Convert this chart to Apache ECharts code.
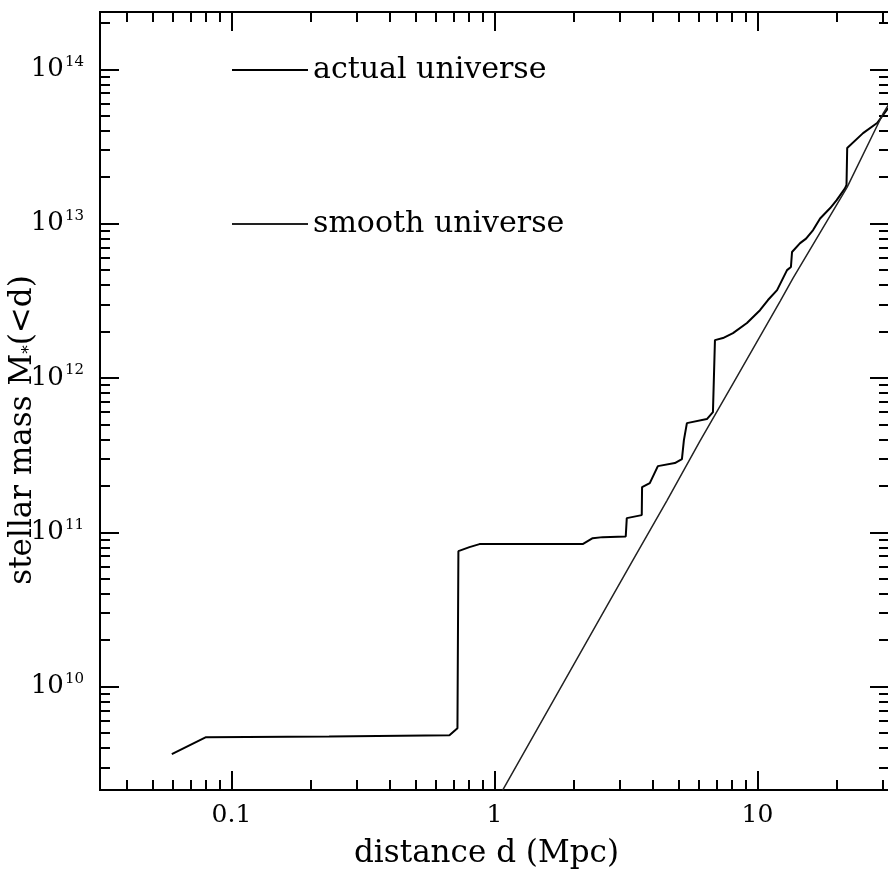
<!DOCTYPE html>
<html>
<head>
<meta charset="utf-8">
<script src="https://cdn.jsdelivr.net/npm/echarts@6/dist/echarts.min.js"></script>
<style>
html,body{margin:0;padding:0;background:#fff;}
#chart{width:888px;height:869px;}
</style>
</head>
<body>
<div id="chart"></div>
<script>
// ---- data ----
const actualD = [0.0593, 0.080, 0.235, 0.674, 0.723, 0.729, 0.803, 0.877, 2.164, 2.362, 2.578, 3.155, 3.184, 3.63, 3.64, 3.895, 4.18, 4.85, 5.16, 5.25, 5.39, 6.42, 6.77, 6.85, 6.89, 7.39, 8.07, 9.12, 10.22, 10.96, 11.87, 12.95, 13.4, 13.53, 14.52, 15.3, 16.27, 17.3, 18.9, 20.0, 21.54, 21.8, 21.93, 25.2, 28.5, 31.4];
const actualM = [3.65e9, 4.71e9, 4.75e9, 4.85e9, 5.38e9, 7.55e10, 8.02e10, 8.39e10, 8.39e10, 9.17e10, 9.31e10, 9.4e10, 1.236e11, 1.293e11, 1.963e11, 2.084e11, 2.685e11, 2.81e11, 2.98e11, 3.96e11, 5.1e11, 5.42e11, 6.01e11, 6.05e11, 1.76e12, 1.814e12, 1.954e12, 2.27e12, 2.75e12, 3.2e12, 3.71e12, 5.0e12, 5.24e12, 6.55e12, 7.48e12, 8.0e12, 9.09e12, 1.08e13, 1.262e13, 1.42e13, 1.70e13, 1.78e13, 3.09e13, 3.86e13, 4.49e13, 5.61e13];
const smoothD = [1.073, 2.72, 3.36, 4.52, 6.04, 8.07, 12.2, 13.65, 21.9, 30.1, 31.5];
const smoothM = [2.13e9, 3.5e10, 6.6e10, 1.6e11, 3.9e11, 9.2e11, 3.15e12, 4.44e12, 1.72e13, 5.21e13, 5.9e13];
const seriesNames = ['actual universe', 'smooth universe'];
const xMajorTicks = [0.1, 1, 10];
const xMinorTicks = [0.04, 0.05, 0.06, 0.07, 0.08, 0.09, 0.2, 0.3, 0.4, 0.5, 0.6, 0.7, 0.8, 0.9, 2, 3, 4, 5, 6, 7, 8, 9, 20, 30];
const yMajorTicks = [1e10, 1e11, 1e12, 1e13, 1e14];
const yMinorTicks = [3e9, 4e9, 5e9, 6e9, 7e9, 8e9, 9e9, 2e10, 3e10, 4e10, 5e10, 6e10, 7e10, 8e10, 9e10, 2e11, 3e11, 4e11, 5e11, 6e11, 7e11, 8e11, 9e11, 2e12, 3e12, 4e12, 5e12, 6e12, 7e12, 8e12, 9e12, 2e13, 3e13, 4e13, 5e13, 6e13, 7e13, 8e13, 9e13, 2e14];
const xName = 'distance d (Mpc)';

// ---- chart ----
const FONT = 'DejaVu Serif';
const xMin = Math.pow(10, -1.5), xMax = Math.pow(10, 1.5);
const yMin = Math.pow(10, 9.3305), yMax = Math.pow(10, 14.3714);
const lineCol = '#000';

function xAxisDef(pos, ticks, len, labels) {
  return {
    type: 'log', logBase: 10, min: xMin, max: xMax, position: pos,
    axisLine: { show: true, lineStyle: { color: lineCol, width: 2 } },
    axisTick: { show: true, inside: true, length: len, customValues: ticks, lineStyle: { color: lineCol, width: 2 } },
    axisLabel: labels ? {
      show: true, customValues: xMajorTicks, margin: 13,
      fontFamily: FONT, fontSize: 25, color: '#000',
      formatter: v => (v >= 1 ? String(Math.round(v)) : String(Number(v.toPrecision(1))))
    } : { show: false },
    splitLine: { show: false },
    name: labels ? xName : '',
    nameLocation: 'middle', nameGap: 48,
    nameTextStyle: { fontFamily: FONT, fontSize: 31, color: '#000', padding: [0, 16, 0, 0] }
  };
}
function yAxisDef(pos, ticks, len, labels) {
  return {
    type: 'log', logBase: 10, min: yMin, max: yMax, position: pos,
    axisLine: { show: true, lineStyle: { color: lineCol, width: 2 } },
    axisTick: { show: true, inside: true, length: len, customValues: ticks, lineStyle: { color: lineCol, width: 2 } },
    axisLabel: labels ? {
      show: true, customValues: yMajorTicks, margin: 16,
      formatter: v => '{b|10}{s|' + Math.round(Math.log10(v)) + '}',
      rich: {
        b: { fontFamily: FONT, fontSize: 26, color: '#000', lineHeight: 30 },
        s: { fontFamily: FONT, fontSize: 15, color: '#000', verticalAlign: 'top', lineHeight: 30, padding: [0, 0, 14, 1] }
      }
    } : { show: false },
    splitLine: { show: false },
    name: labels ? '{a|stellar mass M}{sub|*}{a|(<d)}' : '',
    nameLocation: 'middle', nameGap: 62, nameRotate: 90,
    nameMoveOverlap: false,
    nameTextStyle: {
      padding: [0, 58, 0, 0],
      rich: {
        a: { fontFamily: FONT, fontSize: 31, color: '#000' },
        sub: { fontFamily: FONT, fontSize: 17, color: '#000', verticalAlign: 'bottom', padding: [10, 0, 0, 0] }
      }
    }
  };
}

const actualData = actualD.map((d, i) => [d, actualM[i]]);
const smoothData = smoothD.map((d, i) => [d, smoothM[i]]);

const chart = echarts.init(document.getElementById('chart'), null, { renderer: 'canvas' });
chart.setOption({
  animation: false,
  backgroundColor: '#fff',
  grid: { left: 100, top: 12, width: 789, height: 778, containLabel: false, outerBoundsMode: 'none' },
  legend: [
    { data: [seriesNames[0]], left: 232, top: 55, padding: 0, itemWidth: 76, itemHeight: 2, icon: 'rect',
      textStyle: { fontFamily: FONT, fontSize: 30, color: '#000', lineHeight: 30 }, selectedMode: false },
    { data: [seriesNames[1]], left: 232, top: 209, padding: 0, itemWidth: 76, itemHeight: 2, icon: 'rect',
      textStyle: { fontFamily: FONT, fontSize: 30, color: '#000', lineHeight: 30 }, selectedMode: false }
  ],
  xAxis: [
    xAxisDef('bottom', xMajorTicks, 19, true),
    xAxisDef('bottom', xMinorTicks, 10, false),
    xAxisDef('top', xMajorTicks, 19, false),
    xAxisDef('top', xMinorTicks, 10, false)
  ],
  yAxis: [
    yAxisDef('left', yMajorTicks, 19, true),
    yAxisDef('left', yMinorTicks, 10, false),
    yAxisDef('right', yMajorTicks, 19, false),
    yAxisDef('right', yMinorTicks, 10, false)
  ],
  series: [
    { name: seriesNames[0], type: 'line', xAxisIndex: 0, yAxisIndex: 0, data: actualData,
      showSymbol: false, symbol: 'none', clip: true,
      itemStyle: { color: '#000' }, lineStyle: { color: '#000', width: 2 } },
    { name: seriesNames[1], type: 'line', xAxisIndex: 0, yAxisIndex: 0, data: smoothData,
      showSymbol: false, symbol: 'none', clip: true,
      itemStyle: { color: '#222' }, lineStyle: { color: '#222', width: 1.5 } }
  ]
});
</script>
</body>
</html>
